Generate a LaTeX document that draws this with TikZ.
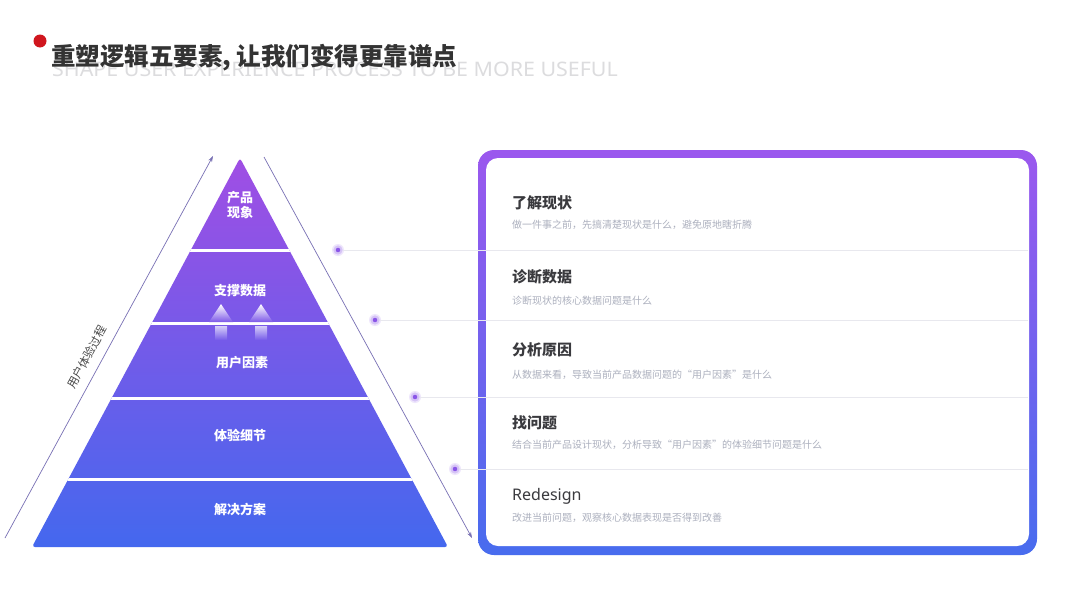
\documentclass[tikz,border=0pt]{standalone}
\usepackage{fontspec}
\setmainfont{Noto Sans}
\newfontfamily\cjk{Noto Sans CJK SC}
\newfontfamily\enfont{Noto Sans}
\usetikzlibrary{arrows.meta}
\definecolor{pyrtop}{RGB}{160,78,228}
\definecolor{pyrbot}{RGB}{68,104,238}
\definecolor{cardtop}{RGB}{155,88,238}
\definecolor{cardbot}{RGB}{72,108,238}
\definecolor{titlec}{RGB}{51,51,51}
\definecolor{subc}{RGB}{220,220,222}
\definecolor{redc}{RGB}{208,22,30}
\definecolor{arrc}{RGB}{120,112,180}
\definecolor{dotc}{RGB}{138,85,232}
\definecolor{haloc}{RGB}{214,196,246}
\definecolor{halo2}{RGB}{238,230,252}
\definecolor{sepc}{RGB}{232,232,238}
\definecolor{headc}{RGB}{58,58,62}
\definecolor{descc}{RGB}{172,176,190}
\definecolor{upmid}{RGB}{125,88,232}
\definecolor{upbot}{RGB}{117,90,233}
\tikzset{
  layertext/.style={text=white, font=\cjk\bfseries\fontsize{13}{15.5}\selectfont, align=center, inner sep=0pt},
  arr/.style={draw=arrc, line width=0.7pt, -{Stealth[length=6pt,width=4pt]}},
  dotnode/.style={circle, fill=dotc, draw=haloc, line width=2pt, minimum size=7pt, inner sep=0pt},
  halonode/.style={circle, fill=halo2, minimum size=12pt, inner sep=0pt},
  sepline/.style={draw=sepc, line width=0.8pt},
  headtext/.style={anchor=west, text=headc, inner sep=0pt, font=\cjk\bfseries\fontsize{15}{18}\selectfont},
  desctext/.style={anchor=west, text=descc, inner sep=0pt, font=\cjk\fontsize{10}{12}\selectfont},
}
\begin{document}
\begin{tikzpicture}[x=1pt,y=-1pt]
\useasboundingbox (0,0) rectangle (1080,608);
\fill[white] (0,0) rectangle (1080,608);

% title
\node[anchor=west, inner sep=0pt, text=subc, xscale=1.07, font=\enfont\fontsize{20}{24}\selectfont] (sub) at (52,69) {SHAPE USER EXPERIENCE PROCESS TO BE MORE USEFUL};
\fill[redc] (40,41) circle (6.5pt);
\node[anchor=west, inner sep=0pt, text=titlec, font=\cjk\bfseries\fontsize{24.5}{28}\selectfont] (title) at (51,58) {重塑逻辑五要素, 让我们变得更靠谱点};

% pyramid
\coordinate (apex) at (240,158);
\coordinate (bl) at (32,547);
\coordinate (br) at (448,547);
\shade[top color=pyrtop, bottom color=pyrbot, rounded corners=3pt] (apex) -- (br) -- (bl) -- cycle;
\begin{scope}
\clip (apex) -- (br) -- (bl) -- cycle;
\foreach \yy in {250,323,398,479} \draw[white, line width=3pt] (0,\yy) -- (480,\yy);
\end{scope}

% up arrows
\shade[top color=white, bottom color=upmid] (221,304) -- (233,322) -- (209,322) -- cycle;
\shade[top color=white, bottom color=upmid] (261,304) -- (273,322) -- (249,322) -- cycle;
\shade[top color=white!70!upbot, bottom color=upbot] (215,326) rectangle (227,340);
\shade[top color=white!70!upbot, bottom color=upbot] (255,326) rectangle (267,340);

\node[layertext] (l1) at (240,205) {产品\\[-1pt]现象};
\node[layertext] (l2) at (240,291) {支撑数据};
\node[layertext] (l3) at (242,363) {用户因素};
\node[layertext] (l4) at (240,435) {体验细节};
\node[layertext] (l5) at (240,509) {解决方案};

% side arrows
\coordinate (la1) at (5,538);
\coordinate (la2) at (213,156);
\draw[arr] (la1) -- (la2);
\coordinate (ra1) at (264,157);
\coordinate (ra2) at (472,538);
\draw[arr] (ra1) -- (ra2);
\node[rotate=61.4, text=titlec!90, font=\cjk\fontsize{11.5}{13}\selectfont, inner sep=0pt] (proc) at (87,357) {用户体验过程};

% card
\shade[top color=cardtop, bottom color=cardbot, rounded corners=16pt] (478,150) rectangle (1037,555);
\fill[white, rounded corners=12pt] (486,158) rectangle (1029,546);

% dots and lines
\node[halonode] at (338,250) {};
\node[halonode] at (375,320) {};
\node[halonode] at (415,397) {};
\node[halonode] at (455,469) {};
\node[dotnode] (d1) at (338,250) {};
\node[dotnode] (d2) at (375,320) {};
\node[dotnode] (d3) at (415,397) {};
\node[dotnode] (d4) at (455,469) {};
\coordinate (e1) at (1028,250);
\coordinate (e2) at (1028,320);
\coordinate (e3) at (1028,397);
\coordinate (e4) at (1028,469);
\draw[sepline] (d1.east) -- (e1);
\draw[sepline] (d2.east) -- (e2);
\draw[sepline] (d3.east) -- (e3);
\draw[sepline] (d4.east) -- (e4);

% card texts
\node[headtext] (h1) at (512,203) {了解现状};
\node[desctext] (s1) at (512,225) {做一件事之前，先搞清楚现状是什么，避免原地瞎折腾};
\node[headtext] (h2) at (512,277) {诊断数据};
\node[desctext] (s2) at (512,301) {诊断现状的核心数据问题是什么};
\node[headtext] (h3) at (512,350) {分析原因};
\node[desctext] (s3) at (512,375) {从数据来看，导致当前产品数据问题的“用户因素”是什么};
\node[headtext] (h4) at (512,423) {找问题};
\node[desctext] (s4) at (512,445) {结合当前产品设计现状，分析导致“用户因素”的体验细节问题是什么};
\node[anchor=west, text=headc, inner sep=0pt, font=\enfont\fontsize{16}{19}\selectfont] (h5) at (512,496) {Redesign};
\node[desctext] (s5) at (512,518) {改进当前问题，观察核心数据表现是否得到改善};
\end{tikzpicture}
\end{document}
